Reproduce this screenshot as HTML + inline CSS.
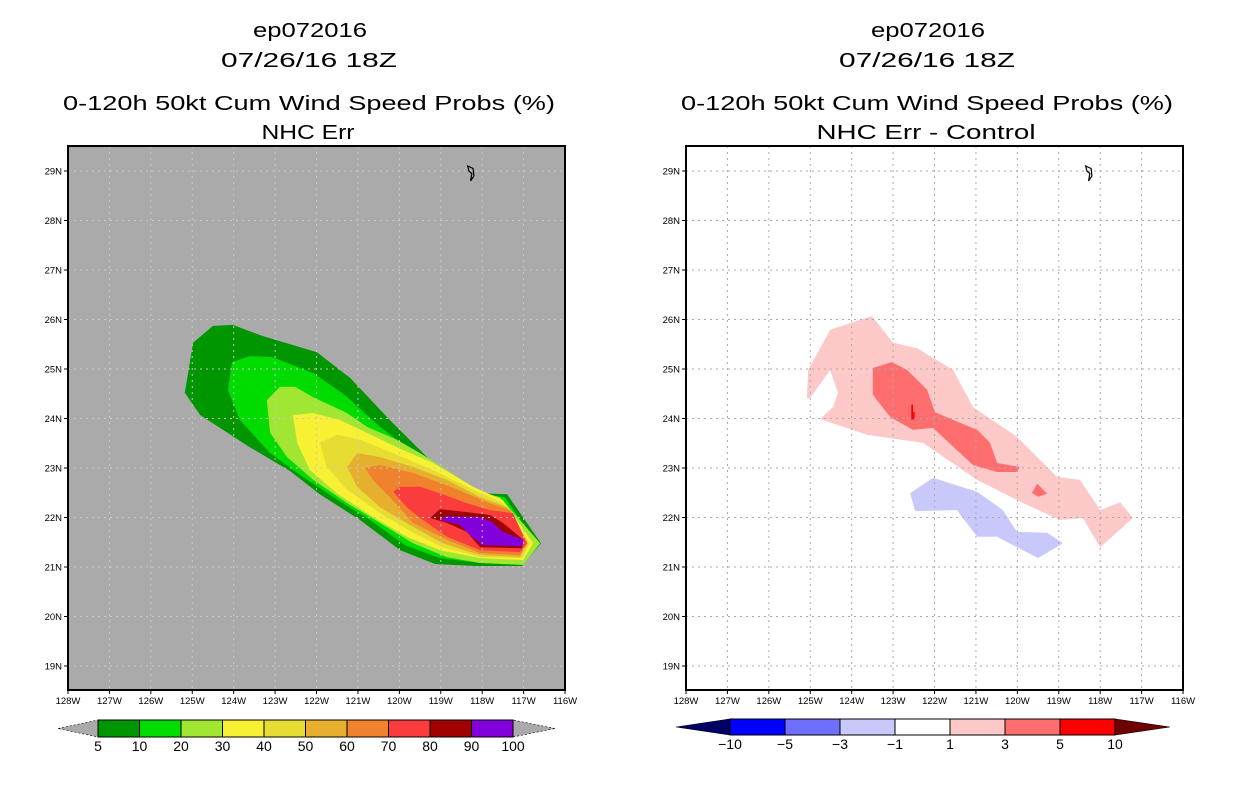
<!DOCTYPE html>
<html><head><meta charset="utf-8"><style>
html,body{margin:0;padding:0;background:#fff;}
svg{display:block;}
text{font-family:"Liberation Sans",sans-serif;}
</style></head><body>
<svg id="root" width="1236" height="800" viewBox="0 0 1236 800" xmlns="http://www.w3.org/2000/svg">
<g font-size="20" text-anchor="middle" fill="#000" lengthAdjust="spacingAndGlyphs">
<text x="310" y="37" textLength="114" lengthAdjust="spacingAndGlyphs">ep072016</text>
<text x="309" y="67" textLength="176" lengthAdjust="spacingAndGlyphs">07/26/16 18Z</text>
<text x="309" y="110" textLength="492" lengthAdjust="spacingAndGlyphs">0-120h 50kt Cum Wind Speed Probs (%)</text>
<text x="308" y="139" textLength="93" lengthAdjust="spacingAndGlyphs">NHC Err</text>
<text x="928" y="37" textLength="114" lengthAdjust="spacingAndGlyphs">ep072016</text>
<text x="927" y="67" textLength="176" lengthAdjust="spacingAndGlyphs">07/26/16 18Z</text>
<text x="927" y="110" textLength="492" lengthAdjust="spacingAndGlyphs">0-120h 50kt Cum Wind Speed Probs (%)</text>
<text x="926" y="139" textLength="219" lengthAdjust="spacingAndGlyphs">NHC Err - Control</text>
</g>
<g id="left"></g>
<g id="right"></g>
</svg>
<script>
// axis values
const lonTicks=[128,127,126,125,124,123,122,121,120,119,118,117,116];
const latTicks=[29,28,27,26,25,24,23,22,21,20,19];
const leftLevels=["5","10","20","30","40","50","60","70","80","90","100"];
const leftColors=["#009600","#00dc00","#a0e632","#f8f032","#e6dc32","#e6af2d","#f0822d","#fa3c3c","#a00000","#8200dc"];
const rightLevels=["-10","-5","-3","-1","1","3","5","10"];
const rightColors=["#0000ff","#6e6eff","#c8c8fa","#ffffff","#fcc8c8","#ff6e6e","#ff0000"];
// left filled contours (lon W, lat N)
const c5Lon=[125.18,124.98,124.50,124.02,123.32,121.99,121.19,120.23,119.02,118.05,117.40,116.58,117.04,118.17,119.14,119.98,120.95,121.92,122.64,123.61,124.81];
const c5Lat=[24.52,25.53,25.87,25.89,25.67,25.34,24.82,23.97,22.96,22.49,22.47,21.48,21.02,21.02,21.06,21.34,21.95,22.47,22.94,23.42,24.07];
const c10Lon=[124.14,124.04,123.61,123.07,122.08,121.31,120.52,119.50,118.54,117.88,117.45,116.73,117.14,118.05,119.02,119.86,120.71,121.55,122.40,123.12,123.85];
const c10Lat=[24.58,25.14,25.26,25.24,24.92,24.47,23.87,23.20,22.62,22.45,22.41,21.51,21.08,21.08,21.18,21.44,21.95,22.39,22.86,23.30,23.97];
const c20Lon=[123.20,122.88,122.52,122.08,121.26,120.78,120.06,119.50,118.85,118.05,117.57,116.60,117.01,118.05,118.85,119.67,120.47,121.26,122.08,122.71,123.12];
const c20Lat=[24.37,24.64,24.64,24.43,24.11,23.83,23.57,23.30,22.96,22.52,22.41,21.48,21.04,21.08,21.20,21.48,21.89,22.29,22.76,23.22,23.71];
const c30Lon=[122.57,122.08,121.43,120.78,120.06,119.19,118.22,117.50,116.77,117.01,118.05,119.02,119.82,120.64,121.51,122.16,122.47];
const c30Lat=[24.07,24.11,23.97,23.71,23.42,23.10,22.62,22.35,21.48,21.14,21.18,21.34,21.61,22.01,22.49,22.96,23.51];
const c40Lon=[121.92,121.51,120.95,120.15,119.19,118.22,117.50,116.85,117.04,118.05,118.95,119.67,120.47,121.26,121.75];
const c40Lat=[23.51,23.67,23.57,23.30,22.96,22.56,22.29,21.48,21.18,21.20,21.40,21.69,22.09,22.56,23.02];
const c50Lon=[121.26,121.02,120.47,119.67,118.85,118.05,117.40,116.89,117.09,118.05,118.95,119.67,120.47,121.02];
const c50Lat=[23.02,23.30,23.22,23.02,22.76,22.41,22.21,21.48,21.20,21.24,21.48,21.81,22.21,22.62];
const c60Lon=[120.83,120.47,119.67,118.70,117.88,117.33,116.92,117.09,118.05,118.85,119.67,120.23,120.64];
const c60Lat=[23.00,23.06,22.90,22.60,22.31,22.15,21.48,21.24,21.28,21.55,21.89,22.41,22.76];
const c70Lon=[120.15,119.98,119.50,119.02,118.37,117.81,117.26,116.92,117.09,118.05,118.85,119.50,119.82];
const c70Lat=[22.52,22.62,22.62,22.49,22.29,22.15,22.09,21.48,21.30,21.34,21.61,21.99,22.21];
const c80Lon=[119.26,119.02,118.37,117.81,117.50,117.01,117.04,118.05,118.37,118.85];
const c80Lat=[21.99,22.17,22.11,22.05,21.89,21.55,21.38,21.40,21.71,21.89];
const c90Lon=[119.02,118.85,118.05,117.76,117.50,117.01,117.04,117.98,118.25,118.54];
const c90Lat=[21.95,22.03,22.01,21.91,21.71,21.55,21.42,21.44,21.61,21.85];
// right difference contours
const p1Lon=[125.08,125.05,124.52,123.51,123.00,122.42,121.55,121.07,120.01,119.04,118.49,118.00,117.52,117.21,118.00,118.42,118.97,119.86,120.97,122.28,123.63,124.76,124.45,124.33,124.52,125.01];
const p1Lat=[24.41,24.98,25.79,26.07,25.53,25.42,24.98,24.23,23.63,22.82,22.76,22.15,22.31,21.99,21.40,21.99,21.95,22.29,22.76,23.51,23.67,23.99,24.23,24.52,24.98,24.41];
const p3Lon=[123.49,123.03,122.66,122.18,121.99,121.55,120.97,120.66,120.49,119.94,120.01,120.49,121.07,122.04,122.52,123.07,123.49];
const p3Lat=[25.02,25.14,24.98,24.58,24.13,23.97,23.77,23.51,23.10,23.02,22.92,22.92,23.06,23.81,23.77,24.03,24.48];
const p3bLon=[119.52,119.28,119.50,119.65];
const p3bLat=[22.68,22.48,22.42,22.50];
const p5Lon=[122.56,122.48,122.48,122.52,122.52,122.56];
const p5Lat=[23.98,23.98,24.13,24.13,24.28,24.28];
const n1Lon=[122.59,122.04,120.97,120.35,120.01,119.28,118.90,119.50,120.49,120.97,121.46,122.47];
const n1Lat=[22.49,22.80,22.52,22.15,21.71,21.69,21.48,21.18,21.61,21.61,22.15,22.13];
const islandLon=[118.35,118.22,118.20,118.28,118.25,118.32];
const islandLat=[29.1,29.05,28.9,28.8,28.95,29.0];

const NS="http://www.w3.org/2000/svg";
function mk(tag,attrs,parent){const e=document.createElementNS(NS,tag);for(const k in attrs)e.setAttribute(k,attrs[k]);parent.appendChild(e);return e;}
const Y0=171, DY=49.5, DX=41.42, TOP=146, BOT=690;
function yOf(lat){return Y0+(29-lat)*DY;}
function panel(g,x0,bg){
  const xOf=lon=>x0+(128-lon)*DX;
  const bgRect=mk('rect',{x:x0,y:TOP,width:497,height:BOT-TOP,fill:bg},g);
  
  
  return xOf;
}
function poly(g,xOf,lons,lats,fill,name){
  const pts=lons.map((l,i)=>xOf(l).toFixed(1)+','+yOf(lats[i]).toFixed(1)).join(' ');
  const p=mk('polygon',{points:pts,fill:fill},g);
  
  
}
function lonsToPts(xOf,lons,lats){return lons.map((l,i)=>xOf(l).toFixed(1)+','+yOf(lats[i]).toFixed(1)).join(' ');}
function axes(g,xOf,x0,gridColor){
  lonTicks.forEach(l=>{
    const x=xOf(l);
    if(l<128&&l>116){const gl=mk('line',{x1:x,y1:TOP,x2:x,y2:BOT,stroke:gridColor,'stroke-width':1,'stroke-dasharray':'2,4'},g);
    }
    mk('line',{x1:x,y1:BOT,x2:x,y2:BOT+4,stroke:'#000'},g);
    const t=mk('text',{x:x,y:BOT+14,'font-size':9.5,'text-anchor':'middle'},g);t.textContent=l+'W';
    
  });
  latTicks.forEach(l=>{
    const y=yOf(l);
    const gl=mk('line',{x1:x0,y1:y,x2:x0+497,y2:y,stroke:gridColor,'stroke-width':1,'stroke-dasharray':'2,4'},g);
    
    mk('line',{x1:x0-4,y1:y,x2:x0,y2:y,stroke:'#000'},g);
    const t=mk('text',{x:x0-6,y:y+3.5,'font-size':9.5,'text-anchor':'end'},g);t.textContent=l+'N';
    
  });
  const fr=mk('rect',{x:x0,y:TOP,width:497,height:BOT-TOP,fill:'none',stroke:'#000','stroke-width':2},g);
  
  const ip=mk('polygon',{points:lonsToPts(xOf,islandLon,islandLat),fill:'none',stroke:'#000','stroke-width':1.2},g);
  
}
function colorbar(g,x1,x2,tipL,tipR,yT,yB,colors,labels,leftTip,rightTip,name){
  const n=colors.length, w=(x2-x1)/n, ym=(yT+yB)/2;
  const a=mk('polygon',{points:`${tipL},${ym} ${x1},${yT} ${x1},${yB}`,fill:leftTip,stroke:'#000','stroke-width':0.6,'stroke-dasharray':leftTip==='#aaaaaa'?'2,2':'none'},g);
  
  const b=mk('polygon',{points:`${tipR},${ym} ${x2},${yT} ${x2},${yB}`,fill:rightTip,stroke:'#000','stroke-width':0.6,'stroke-dasharray':rightTip==='#aaaaaa'?'2,2':'none'},g);
  
  colors.forEach((c,i)=>{
    const r=mk('rect',{x:x1+i*w,y:yT,width:w,height:yB-yT,fill:c,stroke:'#000','stroke-width':1},g);
    
  });
  labels.forEach((s,i)=>{
    const t=mk('text',{x:x1+i*w,y:yB+14,'font-size':14,'text-anchor':'middle'},g);
    t.textContent=s.replace('-','\u2212');
    
  });
}
// left panel
const gl=document.getElementById('left');
const xl=panel(gl,68,'#aaaaaa');
const lc=[[c5Lon,c5Lat],[c10Lon,c10Lat],[c20Lon,c20Lat],[c30Lon,c30Lat],[c40Lon,c40Lat],[c50Lon,c50Lat],[c60Lon,c60Lat],[c70Lon,c70Lat],[c80Lon,c80Lat],[c90Lon,c90Lat]];
lc.forEach((c,i)=>poly(gl,xl,c[0],c[1],leftColors[i],'prob-contour-'+leftLevels[i]));
axes(gl,xl,68,'#c8c8c8');
colorbar(gl,98,513,58,555,720,737,leftColors,leftLevels,'#aaaaaa','#aaaaaa','left-colorbar');
// right panel
const gr=document.getElementById('right');
const xr=panel(gr,686,'#ffffff');
poly(gr,xr,p1Lon,p1Lat,'#fcc8c8','diff-contour-plus1');
poly(gr,xr,p3Lon,p3Lat,'#ff6e6e','diff-contour-plus3');
poly(gr,xr,p3bLon,p3bLat,'#ff6e6e','diff-contour-plus3-small');
poly(gr,xr,p5Lon,p5Lat,'#ff0000','diff-contour-plus5');
poly(gr,xr,n1Lon,n1Lat,'#c8c8fa','diff-contour-minus1');
axes(gr,xr,686,'#aaaaaa');
colorbar(gr,730,1115,676,1170,719,735,rightColors,rightLevels,'#000064','#6e0000','right-colorbar');
</script>
</body></html>
